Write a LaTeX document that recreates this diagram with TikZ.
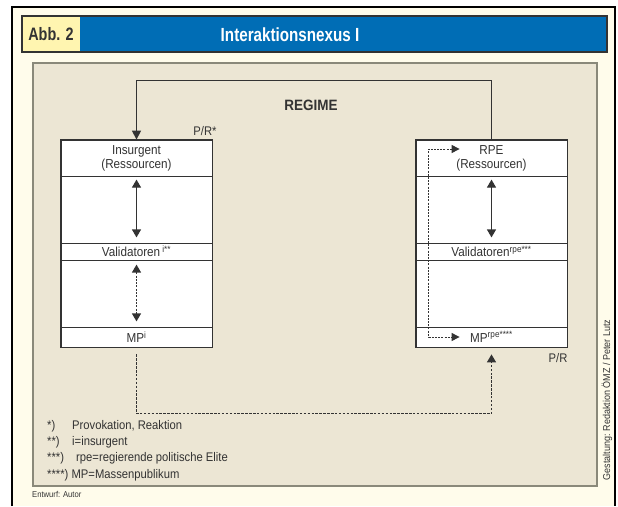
\documentclass[tikz,border=0pt]{standalone}
\usepackage{fontspec}
\setmainfont{Liberation Sans}[FakeStretch=0.9]
\newfontfamily\titlefont{Liberation Sans}[FakeStretch=0.8]
\usetikzlibrary{arrows.meta}
\definecolor{cream}{HTML}{FFFCEB}
\definecolor{panel}{HTML}{ECE6D4}
\definecolor{panelline}{HTML}{8A897A}
\definecolor{hblue}{HTML}{006DB5}
\definecolor{hyellow}{HTML}{FFF5B0}
\definecolor{ink}{HTML}{333333}
\begin{document}
\begin{tikzpicture}[x=1pt,y=-1pt,
  cell/.style={draw=ink, fill=white, line width=0.8pt, minimum width=151pt, inner sep=0pt, text=ink, font=\fontsize{13}{14}\selectfont, align=center},
  frame/.style={draw=ink, line width=1.5pt},
  solidarrow/.style={draw=ink, line width=1.2pt, {Triangle[width=9pt,length=8pt]}-{Triangle[width=9pt,length=8pt]}},
  dotarrow/.style={draw=ink, line width=1.3pt, dash pattern=on 2pt off 1.3pt, {Triangle[width=9pt,length=8pt]}-{Triangle[width=9pt,length=8pt]}},
  thindot/.style={draw=ink, line width=1pt, dash pattern=on 2pt off 1.2pt, {Triangle[width=8pt,length=8pt]}-{Triangle[width=8pt,length=8pt]}},
  lbl/.style={text=ink, font=\fontsize{12.5}{14}\selectfont, inner sep=0pt},
  note/.style={text=ink, font=\fontsize{12.5}{14}\selectfont, inner sep=0pt, anchor=west}
]
\useasboundingbox (0,0) rectangle (618,506);
\fill[white] (0,0) rectangle (618,506);
\fill[cream] (12,7) rectangle (615,506);
\draw[black, line width=1.2pt] (12,506) -- (12,7) -- (615,7) -- (615,506);

% header
\fill[hyellow] (22,16) rectangle (80,52);
\fill[hblue] (80,16) rectangle (607,52);
\draw[ink, line width=1.4pt] (22,16) rectangle (607,52);
\node[text=ink, font=\titlefont\bfseries\fontsize{18}{20}\selectfont, inner sep=0pt] (abb) at (51,34.5) {Abb. 2};
\node[text=white, font=\titlefont\bfseries\fontsize{19}{21}\selectfont, inner sep=0pt] (title) at (290,34.5) {Interaktionsnexus I};

% panel
\draw[panelline, fill=panel, line width=1.4pt] (33,63) rectangle (597,486);

\node[text=ink, font=\bfseries\fontsize{15}{17}\selectfont, inner sep=0pt] (regime) at (311,105) {REGIME};

% left column
\node[cell, minimum height=36pt] (lres) at (136.5,158) {Insurgent\\(Ressourcen)};
\node[cell, minimum height=67pt] (lg1) at (136.5,209.5) {};
\node[cell, minimum height=17pt] (lval) at (136.5,251.5) {Validatoren\,\textsuperscript{i**}};
\node[cell, minimum height=67pt] (lg2) at (136.5,293.5) {};
\node[cell, minimum height=20pt] (lmp) at (136.5,337) {MP\textsuperscript{i}};
\draw[frame] (lres.north west) rectangle (lmp.south east);

% right column
\node[cell, minimum height=36pt] (rres) at (491.5,158) {RPE\\(Ressourcen)};
\node[cell, minimum height=67pt] (rg1) at (491.5,209.5) {};
\node[cell, minimum height=17pt] (rval) at (491.5,251.5) {Validatoren\textsuperscript{rpe***}};
\node[cell, minimum height=67pt] (rg2) at (491.5,293.5) {};
\node[cell, minimum height=20pt] (rmp) at (491.5,337) {MP\textsuperscript{rpe****}};
\draw[frame] (rres.north west) rectangle (rmp.south east);

\node[lbl] (prl) at (205,131) {P/R*};
\node[lbl] (prr) at (558,358) {P/R};

% arrows inside boxes
\draw[solidarrow] ([yshift=-4pt]lg1.north) -- ([yshift=6pt]lg1.south);
\draw[dotarrow] ([yshift=-5pt]lg2.north) -- ([yshift=6pt]lg2.south);
\draw[solidarrow] ([yshift=-4pt]rg1.north) -- ([yshift=6pt]rg1.south);

% dotted path inside right box
\draw[thindot] ([xshift=44pt,yshift=9pt]rres.west) -- ++(-31,0) |- ([xshift=44pt]rmp.west);

% loop on top
\draw[draw=ink, line width=1.3pt, -{Triangle[width=9pt,length=9pt]}] (rres.north) -- ++(0,-59) -| (lres.north);

% bottom dotted connection
\draw[draw=ink, line width=1.5pt, dash pattern=on 2.5pt off 1.4pt, -{Triangle[width=9pt,length=8pt]}] ([yshift=-7pt]lmp.south) -- ++(0,59) -| ([yshift=-7pt]rmp.south);

% footnotes
\node[note] (n1a) at (47,426) {*)};
\node[note] (n1b) at (72,426) {Provokation, Reaktion};
\node[note] (n2a) at (47,442) {**)};
\node[note] (n2b) at (72,442) {i=insurgent};
\node[note] (n3a) at (47,458) {***)};
\node[note] (n3b) at (76,458) {rpe=regierende politische Elite};
\node[note] (n4) at (47,475) {****) MP=Massenpublikum};

\node[text=ink, font=\fontsize{8.5}{10}\selectfont, inner sep=0pt, anchor=west] (entw) at (32,494) {Entwurf: Autor};
\node[text=ink, font=\fontsize{10}{12}\selectfont, inner sep=0pt, rotate=90] (gest) at (607,400) {Gestaltung: Redaktion ÖMZ / Peter Lutz};
\end{tikzpicture}
\end{document}
